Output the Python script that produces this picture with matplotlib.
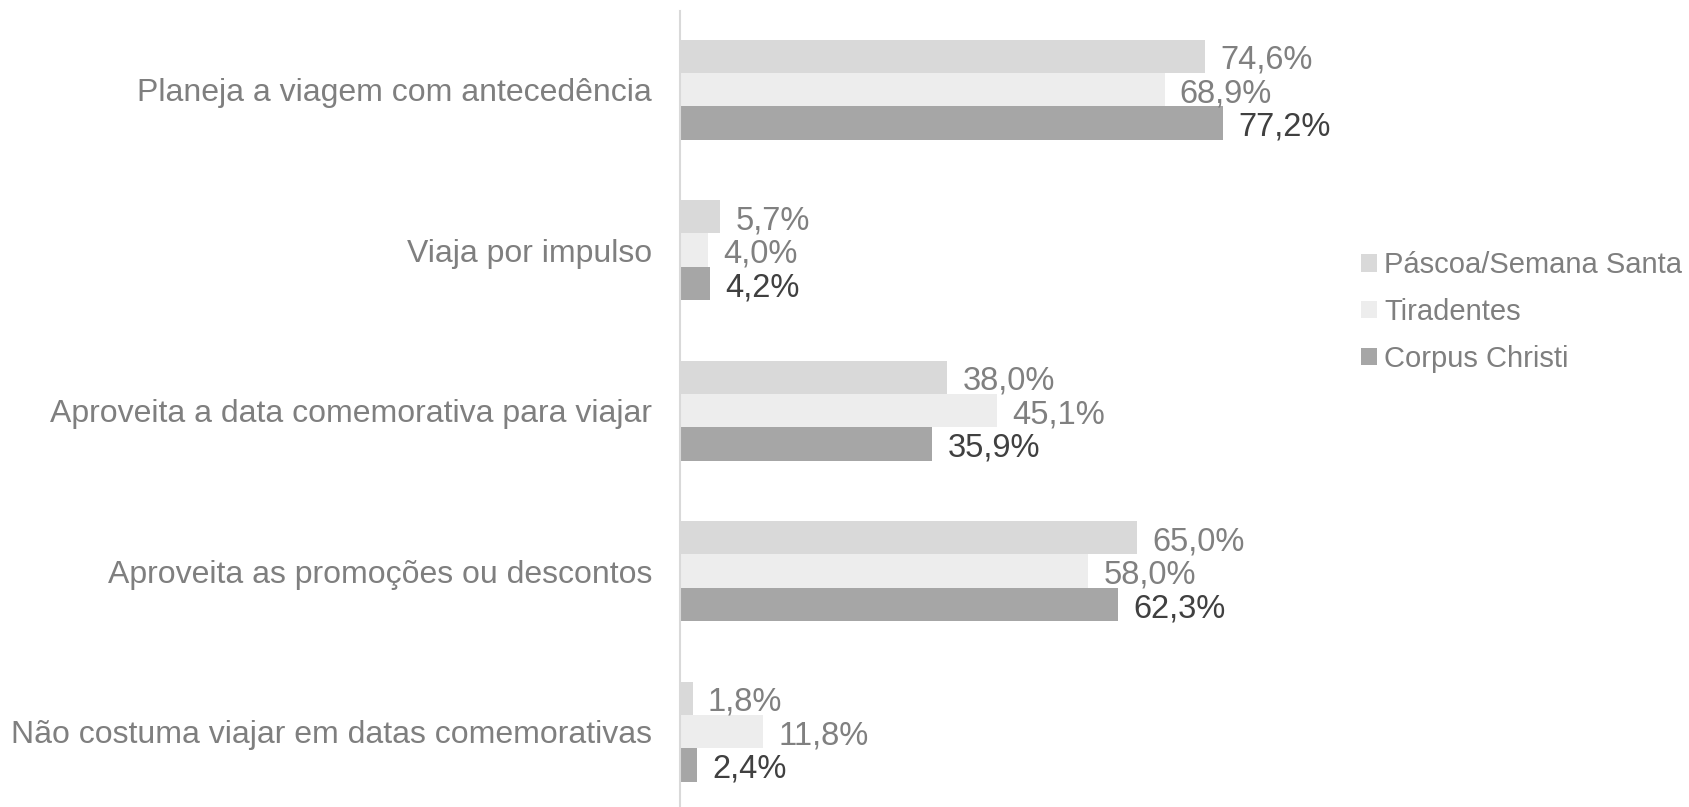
import numpy as np
import matplotlib.pyplot as plt
from matplotlib import rcParams

rcParams.update({
    "font.family": ["Liberation Sans", "DejaVu Sans"],
})

# ----------------------------
# Data
# ----------------------------
categories = [
    "Planeja a viagem com antecedência",
    "Viaja por impulso",
    "Aproveita a data comemorativa para viajar",
    "Aproveita as promoções ou descontos",
    "Não costuma viajar em datas comemorativas",
]
series_names = ["Páscoa/Semana Santa", "Tiradentes", "Corpus Christi"]
pascoa = [74.6, 5.7, 38.0, 65.0, 1.8]
tiradentes = [68.9, 4.0, 45.1, 58.0, 11.8]
corpus = [77.2, 4.2, 35.9, 62.3, 2.4]

bar_colors = ["#D9D9D9", "#EDEDED", "#A6A6A6"]
label_colors = ["#808080", "#808080", "#404040"]

# ----------------------------
# Plot
# ----------------------------
fig = plt.figure(figsize=(16.89, 8.07), dpi=100)
ax = fig.add_axes([680 / 1689, 0.0, 633 / 1689, 796 / 807])

y = np.arange(len(categories))
h = 0.208
offsets = [-h, 0, h]

for vals, name, col, lcol, off in zip([pascoa, tiradentes, corpus], series_names,
                                      bar_colors, label_colors, offsets):
    bars = ax.barh(y + off, vals, height=h, color=col, label=name)
    for b, v in zip(bars, vals):
        ax.annotate(f"{v:.1f}%".replace(".", ","),
                    xy=(b.get_width(), b.get_y() + b.get_height() / 2),
                    xytext=(11, -3), textcoords="offset points",
                    va="center", ha="left", fontsize=23.5, color=lcol)

ax.set_xlim(0, 90)
ax.set_ylim(4.47, -0.49)
ax.set_yticks(y)
ax.set_yticklabels(categories, fontsize=23, color="#7F7F7F")
ax.tick_params(axis="y", length=0, pad=20)
ax.set_xticks([])
for s in ["top", "right", "bottom"]:
    ax.spines[s].set_visible(False)
ax.spines["left"].set_color("#D9D9D9")
ax.spines["left"].set_linewidth(1.5)

leg = fig.legend(loc="center left", bbox_to_anchor=(1346 / 1689, 1 - 312 / 807),
                 frameon=False, fontsize=21, handlelength=0.55, handleheight=0.55,
                 handletextpad=0.25, labelspacing=0.64, borderpad=0)
for t in leg.get_texts():
    t.set_color("#7F7F7F")

plt.savefig("out.png", dpi=100)
